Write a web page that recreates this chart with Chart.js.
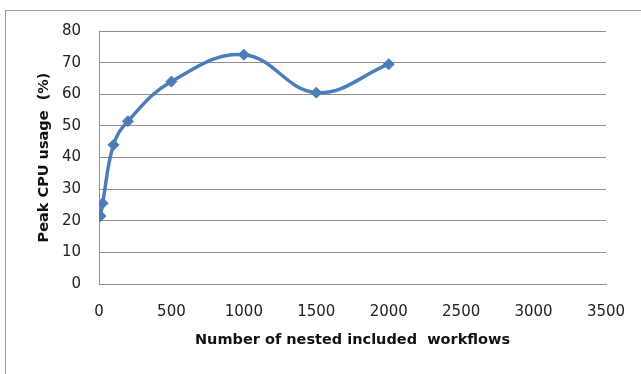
<!DOCTYPE html>
<html>
<head>
<meta charset="utf-8">
<script src="https://cdn.jsdelivr.net/npm/chart.js@4"></script>
<style>
  html, body { margin: 0; padding: 0; background: #fff; }
  #wrap { position: relative; width: 641px; height: 374px; overflow: hidden; }
  #frame { position: absolute; left: 5px; top: 10px; width: 700px; height: 400px;
           border-left: 1px solid #9a9a9a; border-top: 1px solid #9a9a9a; }
  canvas { position: absolute; left: 0; top: 0; }
</style>
</head>
<body>
<div id="wrap">
  <div id="frame"></div>
  <canvas id="c" width="641" height="374"></canvas>
</div>
<script>
// Number of nested included workflows vs. peak CPU usage
const workflows = [10, 25, 100, 200, 500, 1000, 1500, 2000];
const peakCpu   = [21.5, 25.5, 44, 51.5, 64, 72.5, 60.5, 69.5];
const xTitle = 'Number of nested included  workflows';
const yTitle = 'Peak CPU usage  (%)';

const points = workflows.map((x, i) => ({ x: x, y: peakCpu[i] }));
const blue = '#4A7EBB';
const gridGray = '#8e8e8e';
const tickFont = { family: 'DejaVu Sans', size: 15 };
const titleFont = { family: 'DejaVu Sans', size: 14.5, weight: 'bold' };

new Chart(document.getElementById('c'), {
  type: 'line',
  data: {
    datasets: [{
      data: points,
      borderColor: blue,
      backgroundColor: blue,
      borderWidth: 3.5,
      tension: 0.4,
      pointStyle: 'rectRot',
      pointRadius: 5.5,
      pointBorderWidth: 1,
      pointBackgroundColor: blue,
      pointBorderColor: blue,
      fill: false
    }]
  },
  options: {
    responsive: false,
    animation: false,
    devicePixelRatio: 1,
    layout: { padding: { left: 30, right: 35, top: 31, bottom: 0 } },
    plugins: { legend: { display: false }, tooltip: { enabled: false } },
    scales: {
      x: {
        type: 'linear',
        min: 0, max: 3500,
        ticks: { stepSize: 500, padding: 19, color: '#222', font: tickFont, maxRotation: 0,
                 callback: v => String(v) },
        grid: { display: false, drawTicks: false },
        border: { display: true, color: gridGray, width: 1 },
        title: { display: true, text: xTitle, color: '#111', font: titleFont, padding: { top: 0, bottom: 25 } },
        afterFit: s => { s.height = 90; s.paddingLeft = 0; s.paddingRight = 0; }
      },
      y: {
        min: 0, max: 80,
        ticks: { stepSize: 10, padding: 18, color: '#222', font: tickFont },
        grid: { color: gridGray, lineWidth: 1, drawTicks: false },
        border: { display: true, color: gridGray, width: 1 },
        title: { display: true, text: yTitle, color: '#111', font: titleFont, padding: { top: 6, bottom: 0 } },
        afterFit: s => { s.width = 69; s.paddingTop = 0; s.paddingBottom = 0; }
      }
    }
  }
});
</script>
</body>
</html>
